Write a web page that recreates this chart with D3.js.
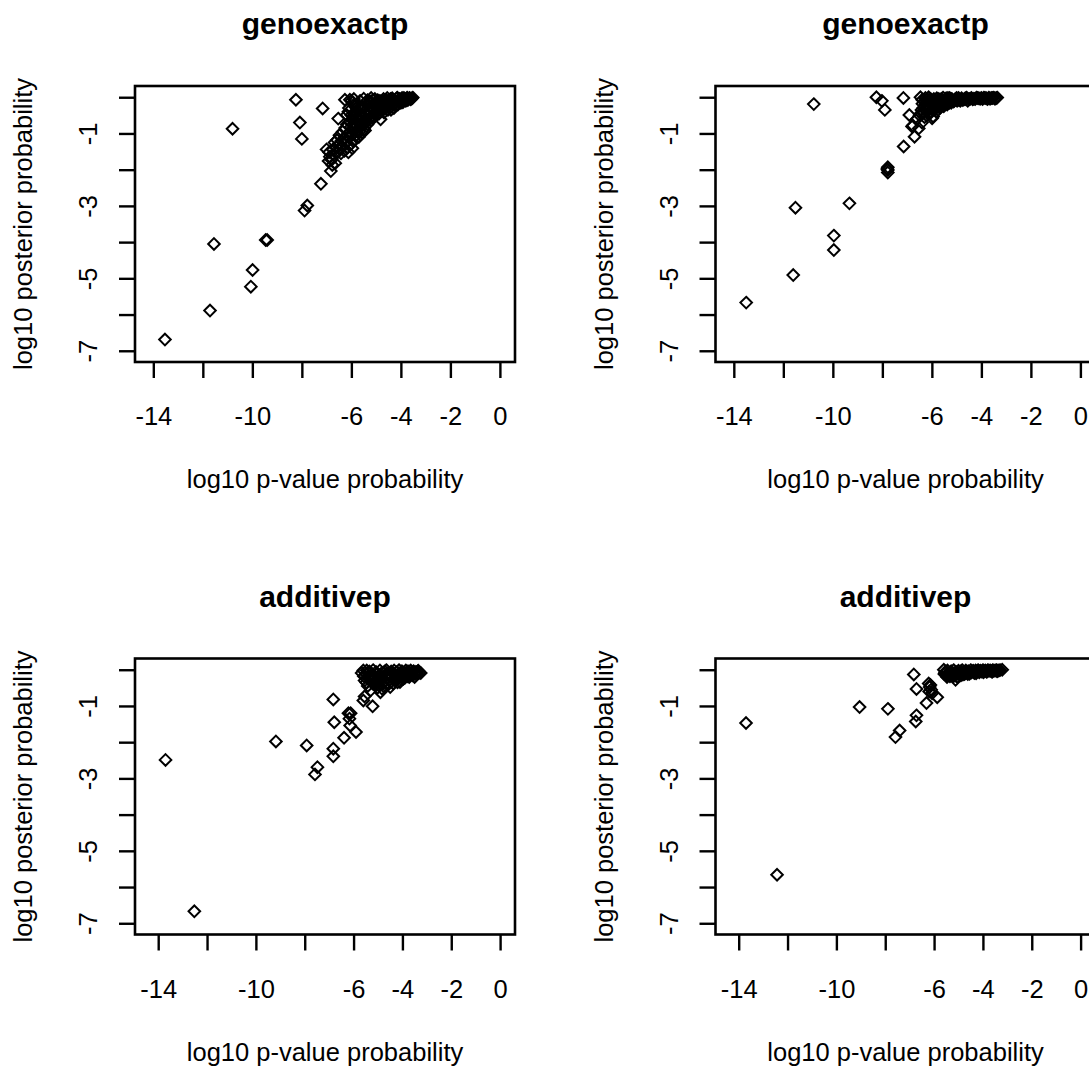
<!DOCTYPE html>
<html>
<head>
<meta charset="utf-8">
<script src="https://cdn.jsdelivr.net/npm/d3@7"></script>
<style>
    body { margin: 0; background: #fff; }
    svg { display: block; }
    text { font-family: "Liberation Sans", Arial, sans-serif; fill: #000; }
</style>
</head>
<body>
<div id="chart-area"></div>
<script>
// Plot box of one panel (top-left one), other panels are shifted
const box = { left: 135, right: 515, top: 86, bottom: 362 };
const colShift = 580.5;
const rowShift = 572.5;

const width = box.right - box.left;
const height = box.bottom - box.top;

//Axis values
const xTicks = [-14, -12, -10, -8, -6, -4, -2, 0];
const xLabelled = [-14, -10, -6, -4, -2, 0];
const yTicks = [0, -1, -2, -3, -4, -5, -6, -7];
const yLabelled = [-1, -3, -5, -7];

const titles = ["genoexactp", "genoexactp", "additivep", "additivep"];
const xTitle = "log10 p-value probability";
const yTitle = "log10 posterior probability";

//Axis limits
const xLimTop = [-14.74, 0.61];
const xLimBottom = [-14.95, 0.61];
const yLim = [-7.31, 0.31];

//Data: [log10 p-value, log10 posterior]
const genoLeft = [
    [-13.53, -6.69], [-11.71, -5.89], [-11.55, -4.05], [-10.8, -0.87], [-9.99, -4.77],
    [-10.06, -5.23], [-9.46, -3.94], [-9.4, -3.94], [-8.24, -0.07], [-8.08, -0.7],
    [-8.0, -1.15], [-7.78, -2.99], [-7.89, -3.13], [-7.23, -2.39], [-7.16, -0.31],
    [-6.83, -2.04], [-6.65, -1.82], [-6.92, -1.76], [-7.0, -1.44], [-6.53, -0.59],
    [-6.26, -0.07], [-6.19, -0.49], [-6.87, -1.64], [-6.8, -1.73], [-6.77, -1.87],
    [-6.9, -1.52], [-6.75, -1.45], [-6.7, -1.6], [-6.62, -1.38], [-6.55, -1.52],
    [-6.5, -1.3], [-6.45, -1.42], [-6.4, -1.2], [-6.38, -1.35], [-6.3, -1.15],
    [-6.28, -1.48], [-6.22, -1.25], [-6.2, -1.05], [-6.15, -1.38], [-6.1, -1.12],
    [-6.05, -0.95], [-6.0, -1.28], [-5.96, -1.41], [-5.95, -1.02], [-5.9, -0.85],
    [-5.88, -1.18], [-5.82, -0.75], [-5.8, -1.05], [-5.75, -0.92], [-5.72, -0.62],
    [-5.7, -1.1], [-5.65, -0.8], [-5.6, -0.55], [-5.58, -0.98], [-5.55, -0.7],
    [-5.5, -0.42], [-5.48, -0.88], [-5.45, -0.92], [-5.42, -0.6], [-5.38, -0.35],
    [-5.35, -0.75], [-5.3, -0.5], [-5.25, -0.28], [-5.22, -0.65], [-5.18, -0.42],
    [-5.12, -0.2], [-5.1, -0.55], [-5.05, -0.35], [-5.0, -0.15], [-4.95, -0.48],
    [-4.9, -0.28], [-4.85, -0.1], [-4.82, -0.61], [-4.8, -0.38], [-4.75, -0.2],
    [-4.7, -0.05], [-4.65, -0.32], [-4.6, -0.15], [-4.55, -0.02], [-4.5, -0.25],
    [-4.45, -0.1], [-4.4, -0.35], [-4.35, -0.03], [-4.3, -0.18], [-4.25, -0.08],
    [-4.2, -0.22], [-4.15, -0.01], [-4.1, -0.12], [-4.05, -0.05], [-4.0, -0.15],
    [-3.95, -0.02], [-3.9, -0.08], [-3.85, -0.04], [-3.8, -0.1], [-3.75, -0.01],
    [-3.7, -0.05], [-3.65, -0.02], [-3.6, -0.06], [-3.55, -0.03], [-3.52, -0.01],
    [-6.0, -0.1], [-5.9, -0.05], [-6.1, -0.3], [-5.8, -0.2], [-5.65, -0.1],
    [-5.5, -0.04], [-5.35, -0.08], [-5.2, -0.02], [-5.05, -0.05], [-5.95, -0.15],
    [-5.7, -0.3], [-6.68, -1.25], [-6.58, -1.18], [-6.48, -1.05], [-6.42, -1.55],
    [-6.35, -0.95], [-6.25, -0.85], [-6.18, -0.75], [-6.12, -1.52], [-6.08, -0.68],
    [-6.02, -0.82], [-5.98, -0.62], [-5.92, -0.52], [-5.86, -0.98], [-5.84, -0.45],
    [-5.78, -0.58], [-5.74, -0.38], [-5.68, -0.95], [-5.66, -0.48], [-5.62, -0.72],
    [-5.58, -0.3], [-5.52, -0.58], [-5.46, -0.25], [-5.44, -0.72], [-5.4, -0.48],
    [-5.36, -0.18], [-5.32, -0.62], [-5.28, -0.38], [-5.24, -0.12], [-5.2, -0.55],
    [-5.16, -0.3], [-5.14, -0.08], [-5.08, -0.45], [-5.04, -0.22], [-4.98, -0.38],
    [-4.94, -0.08], [-4.88, -0.45], [-4.86, -0.2], [-4.78, -0.3], [-4.72, -0.12],
    [-4.68, -0.42], [-4.62, -0.25], [-4.58, -0.08], [-4.52, -0.35], [-4.48, -0.18],
    [-4.42, -0.05], [-4.38, -0.25], [-4.32, -0.1], [-4.28, -0.3], [-4.22, -0.15],
    [-4.18, -0.04], [-4.12, -0.2], [-4.08, -0.09], [-4.02, -0.1], [-3.98, -0.05],
    [-3.92, -0.14], [-3.88, -0.02], [-3.82, -0.06], [-3.72, -0.08], [-3.62, -0.04],
    [-6.06, -0.07], [-5.9, -0.21], [-6.12, -0.4], [-6.0, -0.5],
];

const genoRight = [
    [-13.5, -5.67], [-11.6, -4.91], [-11.51, -3.05], [-10.77, -0.19], [-9.96, -3.82],
    [-9.96, -4.22], [-9.33, -2.93], [-7.78, -1.93], [-7.78, -2.01], [-7.78, -2.08],
    [-7.8, -1.98], [-8.24, 0.0], [-8.02, -0.1], [-7.9, -0.35], [-7.15, -0.02],
    [-7.14, -1.36], [-6.7, -1.09], [-6.53, -0.86], [-6.77, -0.78], [-6.91, -0.49],
    [-6.8, -0.81], [-6.6, -0.6], [-6.45, -0.45], [-6.4, -0.7], [-6.35, -0.3],
    [-6.3, -0.55], [-6.25, -0.2], [-6.2, -0.4], [-6.15, -0.1], [-6.1, -0.3],
    [-6.05, -0.05], [-6.0, -0.22], [-5.95, -0.53], [-5.9, -0.12], [-5.85, -0.32],
    [-5.8, -0.03], [-5.75, -0.18], [-5.7, -0.25], [-5.65, -0.08], [-5.6, -0.15],
    [-5.55, -0.01], [-5.5, -0.2], [-5.45, -0.06], [-5.4, -0.12], [-5.35, -0.02],
    [-5.3, -0.15], [-5.2, -0.05], [-5.1, -0.1], [-5.0, -0.02], [-4.9, -0.08],
    [-4.8, -0.03], [-4.7, -0.06], [-4.6, -0.01], [-4.5, -0.05], [-4.4, -0.02],
    [-4.3, -0.04], [-4.2, -0.01], [-4.1, -0.03], [-4.0, -0.02], [-3.9, -0.01],
    [-3.8, -0.03], [-3.7, -0.01], [-3.6, -0.02], [-3.5, -0.01], [-3.4, -0.02],
    [-3.36, -0.01], [-6.39, -0.07], [-6.13, 0.0], [-6.26, -0.02], [-6.46, 0.0],
    [-5.99, -0.58], [-6.05, -0.4], [-5.92, -0.25], [-5.78, -0.1], [-5.62, -0.05],
    [-5.25, -0.08], [-4.95, -0.05], [-4.65, -0.03], [-4.35, -0.06], [-4.05, -0.04],
    [-3.75, -0.05], [-3.45, -0.04], [-6.5, -0.5], [-6.42, -0.35], [-6.38, -0.18],
    [-6.32, -0.42], [-6.28, -0.1], [-6.22, -0.3], [-6.18, -0.05], [-6.12, -0.22],
    [-6.08, -0.45], [-6.02, -0.12], [-5.98, -0.35], [-5.92, -0.05], [-5.88, -0.22],
    [-5.82, -0.4], [-5.78, -0.15], [-5.72, -0.05], [-5.68, -0.3], [-5.62, -0.18],
    [-5.58, -0.08], [-5.52, -0.25], [-5.48, -0.12], [-5.42, -0.03], [-5.38, -0.2],
    [-5.32, -0.08], [-5.28, -0.02], [-5.22, -0.15], [-5.18, -0.06], [-5.12, -0.12],
    [-5.05, -0.05], [-4.98, -0.1], [-4.92, -0.02], [-4.85, -0.1], [-4.75, -0.08],
    [-4.62, -0.06], [-4.55, -0.1], [-4.45, -0.04], [-4.25, -0.05], [-4.15, -0.02],
    [-3.95, -0.05], [-3.85, -0.02], [-3.65, -0.04], [-3.55, -0.02],
];

const additiveLeft = [
    [-13.7, -2.49], [-12.52, -6.67], [-9.18, -1.98], [-7.92, -2.09], [-7.48, -2.69],
    [-7.58, -2.89], [-6.83, -2.18], [-6.83, -2.39], [-6.79, -1.45], [-6.83, -0.82],
    [-6.39, -1.88], [-6.21, -1.2], [-6.12, -1.2], [-6.17, -1.35], [-6.14, -1.54],
    [-5.9, -1.72], [-5.6, -0.85], [-5.22, -1.01], [-5.55, -0.74], [-4.1, -0.34],
    [-5.67, -0.09], [-5.6, -0.02], [-5.55, -0.3], [-5.5, -0.12], [-5.46, -0.02],
    [-5.42, -0.45], [-5.38, -0.2], [-5.35, -0.05], [-5.3, -0.57], [-5.28, -0.32],
    [-5.25, -0.12], [-5.2, -0.01], [-5.15, -0.4], [-5.12, -0.22], [-5.08, -0.06],
    [-5.02, -0.5], [-5.0, -0.3], [-4.96, -0.15], [-4.92, -0.02], [-4.9, -0.62],
    [-4.86, -0.4], [-4.82, -0.25], [-4.78, -0.08], [-4.74, -0.48], [-4.7, -0.18],
    [-4.66, -0.01], [-4.62, -0.35], [-4.58, -0.1], [-4.54, -0.28], [-4.5, -0.48],
    [-4.46, -0.05], [-4.42, -0.2], [-4.38, -0.38], [-4.34, -0.02], [-4.3, -0.14],
    [-4.26, -0.3], [-4.22, -0.06], [-4.18, -0.22], [-4.14, -0.01], [-4.1, -0.12],
    [-4.06, -0.26], [-4.02, -0.04], [-3.98, -0.16], [-3.94, -0.08], [-3.9, -0.22],
    [-3.86, -0.02], [-3.82, -0.1], [-3.78, -0.18], [-3.74, -0.05], [-3.7, -0.12],
    [-3.66, -0.02], [-3.62, -0.08], [-3.58, -0.15], [-3.54, -0.04], [-3.5, -0.2],
    [-3.45, -0.06], [-3.4, -0.1], [-3.35, -0.03], [-3.3, -0.08], [-3.25, -0.09],
    [-5.58, -0.18], [-5.48, -0.35], [-5.4, -0.08], [-5.32, -0.25], [-5.22, -0.38],
    [-5.18, -0.15], [-5.1, -0.3], [-5.05, -0.12], [-4.98, -0.42], [-4.94, -0.28],
    [-4.88, -0.12], [-4.84, -0.52], [-4.76, -0.35], [-4.72, -0.05], [-4.64, -0.22],
    [-4.6, -0.42], [-4.52, -0.15], [-4.44, -0.32], [-4.36, -0.1], [-4.28, -0.22],
    [-4.2, -0.35], [-4.12, -0.18], [-4.04, -0.1], [-3.96, -0.25], [-3.88, -0.12],
    [-3.8, -0.05], [-3.72, -0.2], [-3.64, -0.12], [-3.56, -0.06], [-3.48, -0.12],
    [-3.38, -0.05],
];

const additiveRight = [
    [-13.7, -1.47], [-12.43, -5.66], [-9.05, -1.03], [-7.89, -1.08], [-7.58, -1.86],
    [-7.41, -1.68], [-6.83, -0.13], [-6.72, -0.53], [-6.72, -1.26], [-6.75, -1.43],
    [-6.31, -0.92], [-6.22, -0.38], [-6.18, -0.48], [-6.12, -0.55], [-6.08, -0.65],
    [-6.15, -0.42], [-6.2, -0.6], [-5.87, -0.76], [-5.47, -0.2], [-5.12, -0.28],
    [-5.6, 0.0], [-5.55, -0.08], [-5.5, -0.15], [-5.45, -0.02], [-5.4, -0.1],
    [-5.35, -0.18], [-5.3, -0.04], [-5.25, -0.12], [-5.2, -0.01], [-5.15, -0.16],
    [-5.1, -0.06], [-5.05, -0.2], [-5.0, -0.03], [-4.95, -0.1], [-4.9, -0.15],
    [-4.85, -0.01], [-4.8, -0.07], [-4.75, -0.12], [-4.7, -0.02], [-4.65, -0.09],
    [-4.6, -0.04], [-4.55, -0.11], [-4.5, -0.01], [-4.45, -0.06], [-4.4, -0.03],
    [-4.35, -0.09], [-4.3, -0.02], [-4.25, -0.05], [-4.2, -0.01], [-4.15, -0.07],
    [-4.1, -0.03], [-4.05, -0.05], [-4.0, -0.01], [-3.95, -0.04], [-3.9, -0.02],
    [-3.85, -0.06], [-3.8, -0.01], [-3.75, -0.03], [-3.7, -0.02], [-3.65, -0.04],
    [-3.6, -0.01], [-3.55, -0.03], [-3.5, -0.02], [-3.45, -0.01], [-3.4, -0.03],
    [-3.35, -0.02], [-3.3, -0.01], [-3.21, 0.0], [-5.58, -0.12], [-5.52, -0.05],
    [-5.42, -0.14], [-5.32, -0.1], [-5.22, -0.18], [-5.12, -0.08], [-5.02, -0.12],
    [-4.92, -0.05], [-4.82, -0.13], [-4.72, -0.06], [-4.62, -0.12], [-4.48, -0.08],
    [-4.38, -0.05], [-4.28, -0.1], [-4.12, -0.04], [-3.98, -0.07], [-3.82, -0.04],
    [-3.62, -0.06], [-3.42, -0.04],
];

const panelData = [genoLeft, genoRight, additiveLeft, additiveRight];

//Open diamond like R's pch 5
const diamond = {
    draw(context, size) {
        const r = Math.sqrt(size / 2);
        context.moveTo(0, -r);
        context.lineTo(r, 0);
        context.lineTo(0, r);
        context.lineTo(-r, 0);
        context.closePath();
    },
};
const symbol = d3.symbol().type(diamond).size(2 * 5.8 * 5.8);

const svg = d3
    .select("#chart-area")
    .append("svg")
    .attr("width", 1089)
    .attr("height", 1067);

panelData.forEach((points, i) => {
    const col = i % 2;
    const row = Math.floor(i / 2);

    const g = svg
        .append("g")
        .attr("transform", `translate(${box.left + col * colShift}, ${box.top + row * rowShift})`);

    //Scales
    const xScale = d3
        .scaleLinear()
        .domain(row === 0 ? xLimTop : xLimBottom)
        .range([0, width]);
    const yScale = d3.scaleLinear().domain(yLim).range([height, 0]);

    //Axes
    const xAxisCall = d3
        .axisBottom(xScale)
        .tickValues(xTicks)
        .tickSize(16)
        .tickSizeOuter(0)
        .tickFormat((d) => (xLabelled.includes(d) ? String(d) : ""));
    const yAxisCall = d3
        .axisLeft(yScale)
        .tickValues(yTicks)
        .tickSize(16)
        .tickSizeOuter(0)
        .tickFormat((d) => (yLabelled.includes(d) ? String(d) : ""));

    const xAxis = g
        .append("g")
        .attr("class", "x-axis")
        .attr("transform", `translate(0, ${height})`)
        .call(xAxisCall);
    const yAxis = g.append("g").attr("class", "y-axis").call(yAxisCall);

    [xAxis, yAxis].forEach((axis) => {
        axis.select(".domain").remove();
        axis.selectAll(".tick line").attr("stroke", "#000").attr("stroke-width", 2.4);
        axis.selectAll(".tick text").attr("font-size", "25.5px").attr("fill", "#000");
    });
    xAxis.selectAll(".tick text").attr("y", 63).attr("dy", null);
    yAxis
        .selectAll(".tick text")
        .attr("x", null)
        .attr("dy", null)
        .attr("text-anchor", "middle")
        .attr("transform", "translate(-38, 0) rotate(-90)");

    //Box
    g.append("rect")
        .attr("width", width)
        .attr("height", height)
        .attr("fill", "none")
        .attr("stroke", "#000")
        .attr("stroke-width", 2.6);

    //Points
    g.selectAll("path.pt")
        .data(points)
        .enter()
        .append("path")
        .attr("class", "pt")
        .attr("d", symbol)
        .attr("transform", (d) => `translate(${xScale(d[0])}, ${yScale(d[1])})`)
        .attr("fill", "none")
        .attr("stroke", "#000")
        .attr("stroke-width", 2);

    //Labels
    g.append("text")
        .attr("class", "title")
        .attr("x", width / 2)
        .attr("y", -52)
        .attr("text-anchor", "middle")
        .attr("font-size", "30px")
        .attr("font-weight", "bold")
        .text(titles[i]);

    g.append("text")
        .attr("class", "x-label")
        .attr("x", width / 2)
        .attr("y", height + 126)
        .attr("text-anchor", "middle")
        .attr("font-size", "25.5px")
        .text(xTitle);

    g.append("text")
        .attr("class", "y-label")
        .attr("x", -height / 2)
        .attr("y", -103)
        .attr("text-anchor", "middle")
        .attr("font-size", "25.5px")
        .attr("transform", "rotate(-90)")
        .text(yTitle);
});
</script>
</body>
</html>
